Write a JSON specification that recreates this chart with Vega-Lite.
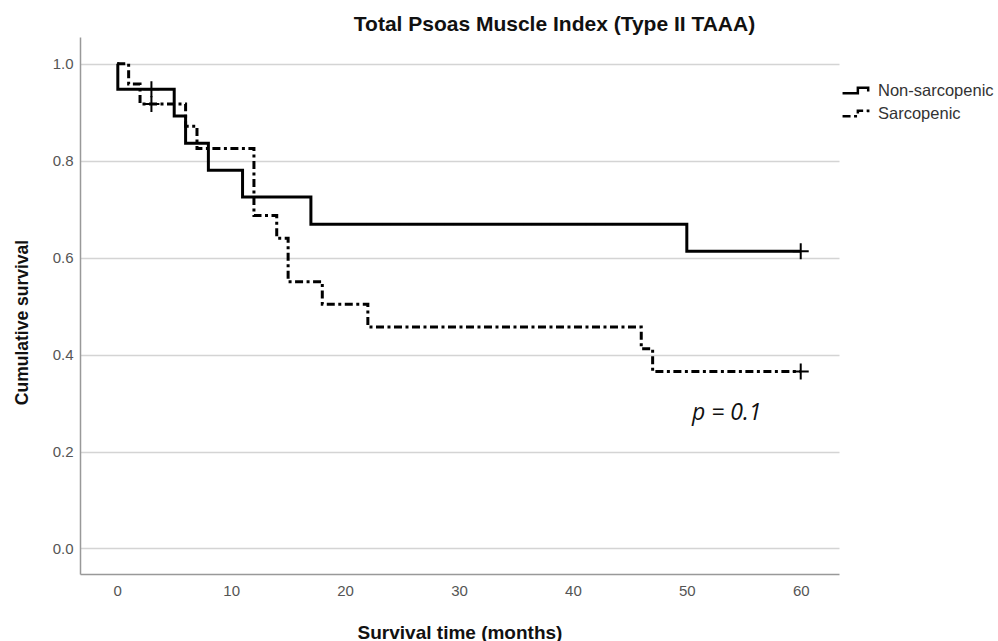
{
  "$schema": "https://vega.github.io/schema/vega-lite/v6.json",
  "width": 759,
  "height": 537,
  "autosize": {"type": "none"},
  "padding": {"left": 80, "top": 37, "right": 159, "bottom": 67},
  "background": "white",
  "title": {
    "text": "Total Psoas Muscle Index (Type II TAAA)",
    "font": "Liberation Sans",
    "fontSize": 21,
    "fontWeight": "bold",
    "color": "#111111",
    "anchor": "middle",
    "baseline": "middle",
    "offset": 15,
    "dx": 95,
    "dy": 24
  },
  "config": {"view": {"stroke": null}, "font": "Liberation Sans"},
  "datasets": {
    "curves": [
      {"group": "Non-sarcopenic", "t": 0, "s": 1.0},
      {"group": "Non-sarcopenic", "t": 0.05, "s": 0.947},
      {"group": "Non-sarcopenic", "t": 5, "s": 0.892},
      {"group": "Non-sarcopenic", "t": 6, "s": 0.836},
      {"group": "Non-sarcopenic", "t": 8, "s": 0.78},
      {"group": "Non-sarcopenic", "t": 11, "s": 0.725},
      {"group": "Non-sarcopenic", "t": 17, "s": 0.669},
      {"group": "Non-sarcopenic", "t": 50, "s": 0.613},
      {"group": "Non-sarcopenic", "t": 60, "s": 0.613},
      {"group": "Sarcopenic", "t": 0, "s": 1.0},
      {"group": "Sarcopenic", "t": 1, "s": 0.958},
      {"group": "Sarcopenic", "t": 2, "s": 0.917},
      {"group": "Sarcopenic", "t": 6, "s": 0.871},
      {"group": "Sarcopenic", "t": 7, "s": 0.825},
      {"group": "Sarcopenic", "t": 12, "s": 0.687},
      {"group": "Sarcopenic", "t": 14, "s": 0.64},
      {"group": "Sarcopenic", "t": 15, "s": 0.55},
      {"group": "Sarcopenic", "t": 18, "s": 0.504},
      {"group": "Sarcopenic", "t": 22, "s": 0.457},
      {"group": "Sarcopenic", "t": 46, "s": 0.412},
      {"group": "Sarcopenic", "t": 47, "s": 0.365},
      {"group": "Sarcopenic", "t": 60, "s": 0.365}
    ],
    "censors": [
      {"group": "Non-sarcopenic", "t": 3, "s": 0.947},
      {"group": "Non-sarcopenic", "t": 60, "s": 0.613},
      {"group": "Sarcopenic", "t": 3, "s": 0.917},
      {"group": "Sarcopenic", "t": 60, "s": 0.365}
    ],
    "notes": [{"t": 53.5, "s": 0.279, "label": "p = 0.1"}]
  },
  "layer": [
    {
      "data": {"name": "curves"},
      "mark": {"type": "line", "interpolate": "step-after", "strokeWidth": 3, "color": "black"},
      "encoding": {
        "x": {
          "field": "t",
          "type": "quantitative",
          "scale": {"domain": [-3.27, 63.36], "nice": false, "zero": false},
          "axis": {
            "values": [0, 10, 20, 30, 40, 50, 60],
            "grid": false,
            "ticks": false,
            "tickSize": 0,
            "labelPadding": 9,
            "labelFontSize": 15,
            "labelColor": "#555555",
            "labelFont": "Liberation Sans",
            "domainColor": "#999999",
            "domainWidth": 1.5,
            "title": "Survival time (months)",
            "titleFont": "Liberation Sans",
            "titleFontSize": 19,
            "titleFontWeight": "bold",
            "titleColor": "#111111",
            "titleY": 58,
            "titleBaseline": "middle"
          }
        },
        "y": {
          "field": "s",
          "type": "quantitative",
          "scale": {"domain": [-0.0526, 1.055], "nice": false, "zero": false},
          "axis": {
            "values": [0, 0.2, 0.4, 0.6, 0.8, 1.0],
            "format": ".1f",
            "grid": true,
            "gridColor": "#d4d4d4",
            "gridWidth": 1.5,
            "ticks": false,
            "tickSize": 0,
            "labelPadding": 7,
            "labelFontSize": 15,
            "labelColor": "#555555",
            "labelFont": "Liberation Sans",
            "domainColor": "#999999",
            "domainWidth": 1.5,
            "title": "Cumulative survival",
            "titleFont": "Liberation Sans",
            "titleFontSize": 17.5,
            "titleFontWeight": "bold",
            "titleColor": "#111111",
            "titleX": -58,
            "titleY": 285,
            "titleAngle": -90,
            "titleAlign": "center",
            "titleBaseline": "middle"
          }
        },
        "strokeDash": {
          "field": "group",
          "type": "nominal",
          "scale": {"domain": ["Non-sarcopenic", "Sarcopenic"], "range": [[1, 0], [8, 3.5, 3, 3.5]]},
          "legend": {
            "orient": "none",
            "legendX": 766,
            "legendY": 43,
            "title": null,
            "symbolType": "M-1.55,0.3H0.15V-0.3H1.3V0.1",
            "symbolSize": 324,
            "symbolStrokeWidth": 2.5,
            "symbolStrokeColor": "black",
            "symbolFillColor": "transparent",
            "labelFont": "Liberation Sans",
            "labelFontSize": 16.5,
            "labelColor": "#333333",
            "labelOffset": 11,
            "rowPadding": 4
          }
        }
      }
    },
    {
      "data": {"name": "censors"},
      "mark": {"type": "point", "shape": "M-1,0H1M0,-1V1", "filled": false, "size": 256, "strokeWidth": 2, "color": "black", "opacity": 1},
      "encoding": {
        "x": {"field": "t", "type": "quantitative"},
        "y": {"field": "s", "type": "quantitative"}
      }
    },
    {
      "data": {"name": "notes"},
      "mark": {"type": "text", "font": "Open Sans", "fontStyle": "italic", "fontSize": 23, "color": "#111111"},
      "encoding": {
        "x": {"field": "t", "type": "quantitative"},
        "y": {"field": "s", "type": "quantitative"},
        "text": {"field": "label", "type": "nominal"}
      }
    }
  ]
}
